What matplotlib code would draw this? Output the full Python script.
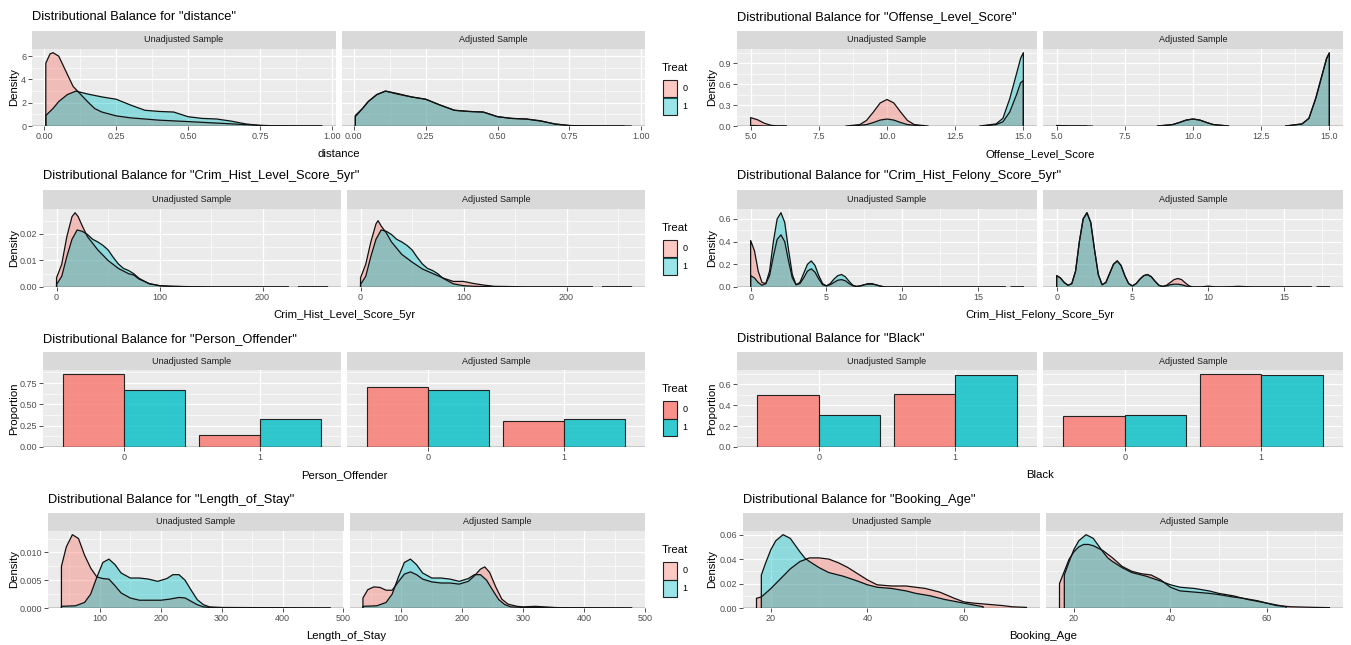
import numpy as np
import matplotlib
matplotlib.use("Agg")
import matplotlib.pyplot as plt
from matplotlib.patches import Rectangle
from matplotlib.colors import to_rgba

plt.rcParams['font.family'] = ['Liberation Sans', 'DejaVu Sans']

nan = np.nan

# ---------------------------------------------------------------- data
treat_levels = ["0", "1"]
facet_labels = ["Unadjusted Sample", "Adjusted Sample"]

# distance (propensity score)
distance_x_ctrl_unadj = [0.005, 0.005, 0.02, 0.03, 0.05, 0.075, 0.10, 0.125, 0.15, 0.175, 0.20, 0.25, 0.30, 0.35,
                         0.40, 0.50, 0.60, 0.70, 0.75, 0.80, 0.90, 0.965]
distance_y_ctrl_unadj = [0, 5.4, 6.2, 6.3, 6.0, 4.7, 3.4, 2.75, 2.1, 1.5, 1.2, 0.87, 0.7, 0.6,
                         0.5, 0.38, 0.25, 0.12, 0.06, 0.02, 0.0, 0.0]
distance_x_trt = [0.005, 0.005, 0.03, 0.05, 0.08, 0.11, 0.15, 0.20, 0.25, 0.30, 0.35, 0.40, 0.45, 0.50,
                  0.55, 0.60, 0.65, 0.70, 0.75, 0.80, 0.90, 0.965]
distance_y_trt = [0, 0.9, 1.5, 2.1, 2.7, 3.0, 2.75, 2.5, 2.3, 1.8, 1.35, 1.25, 1.2, 0.8,
                  0.65, 0.6, 0.42, 0.18, 0.04, 0.01, 0.0, 0.0]
distance_x_ctrl_adj = [0.005, 0.005, 0.03, 0.05, 0.08, 0.11, 0.15, 0.20, 0.25, 0.30, 0.35, 0.40, 0.45, 0.50,
                       0.55, 0.60, 0.65, 0.70, 0.75, 0.80, 0.90, 0.94]
distance_y_ctrl_adj = [0, 0.8, 1.5, 2.1, 2.7, 3.0, 2.8, 2.5, 2.3, 1.8, 1.35, 1.25, 1.2, 0.8,
                       0.65, 0.6, 0.45, 0.16, 0.04, 0.01, 0.0, 0.0]
distance_xticks = [0.0, 0.25, 0.5, 0.75, 1.0]
distance_xticklabels = ["0.00", "0.25", "0.50", "0.75", "1.00"]
distance_yticks = [0, 2, 4, 6]
distance_yticklabels = ["0", "2", "4", "6"]

# Offense_Level_Score
offense_x_ctrl_unadj = [5.0, 5.0, 5.25, 5.5, 5.75, 6.0, 6.3, nan,
                        8.5, 9.0, 9.25, 9.5, 9.75, 10.0, 10.25, 10.5, 10.75, 11.0, 11.5, nan,
                        13.5, 14.0, 14.25, 14.5, 14.75, 14.9, 15.0, 15.0]
offense_y_ctrl_unadj = [0, 0.12, 0.09, 0.04, 0.01, 0.0, 0.0, nan,
                        0, 0.02, 0.08, 0.20, 0.33, 0.38, 0.33, 0.20, 0.08, 0.02, 0, nan,
                        0, 0.02, 0.06, 0.20, 0.45, 0.62, 0.65, 0]
offense_x_trt = [5.0, 5.0, 5.5, 6.3, nan,
                 8.7, 9.25, 9.5, 9.75, 10.0, 10.25, 10.5, 10.75, 11.3, nan,
                 13.4, 14.0, 14.25, 14.5, 14.75, 14.9, 15.0, 15.0]
offense_y_trt = [0, 0.008, 0.0, 0.0, nan,
                 0, 0.02, 0.05, 0.085, 0.10, 0.085, 0.05, 0.02, 0, nan,
                 0, 0.03, 0.11, 0.39, 0.75, 0.97, 1.05, 0]
offense_x_ctrl_adj = [5.0, 5.0, 5.5, 6.1, nan,
                      8.7, 9.25, 9.5, 9.75, 10.0, 10.25, 10.5, 10.75, 11.3, nan,
                      13.4, 14.0, 14.25, 14.5, 14.75, 14.9, 15.0, 15.0]
offense_y_ctrl_adj = [0, 0.005, 0.0, 0.0, nan,
                      0, 0.02, 0.05, 0.085, 0.10, 0.085, 0.05, 0.02, 0, nan,
                      0, 0.03, 0.11, 0.40, 0.76, 0.97, 1.04, 0]
offense_xticks = [5.0, 7.5, 10.0, 12.5, 15.0]
offense_xticklabels = ["5.0", "7.5", "10.0", "12.5", "15.0"]
offense_yticks = [0.0, 0.3, 0.6, 0.9]
offense_yticklabels = ["0.0", "0.3", "0.6", "0.9"]

# Crim_Hist_Level_Score_5yr
crimlvl_x_ctrl_unadj = [0, 0, 5, 10, 15, 18, 21, 25, 30, 40, 50, 60, 70, 75, 80, 90, 100, 110, 120, 135,
                        150, 225, nan, 235, 263]
crimlvl_y_ctrl_unadj = [0, 0.0035, 0.0085, 0.019, 0.0265, 0.028, 0.0265, 0.023, 0.019, 0.014, 0.010, 0.007,
                        0.005, 0.0045, 0.003, 0.0013, 0.0005, 0.0003, 0.0002, 0.0001, 0, 0, nan, 0, 0]
crimlvl_x_trt = [0, 0, 5, 10, 15, 20, 25, 30, 35, 40, 45, 50, 55, 60, 65, 70, 75, 80, 90, 100, 110, 130,
                 150, 225, nan, 235, 263]
crimlvl_y_trt = [0, 0.001, 0.004, 0.0115, 0.018, 0.0215, 0.021, 0.0198, 0.018, 0.017, 0.0157, 0.014, 0.0112,
                 0.0087, 0.007, 0.0062, 0.005, 0.0033, 0.0012, 0.0005, 0.00025, 0.0001, 0, 0, nan, 0, 0]
crimlvl_x_ctrl_adj = [0, 0, 5, 10, 15, 17, 20, 25, 30, 40, 50, 60, 70, 80, 90, 100, 110, 120, 130, 145,
                      160, 225, nan, 235, 263]
crimlvl_y_ctrl_adj = [0, 0.0035, 0.0085, 0.017, 0.0238, 0.025, 0.023, 0.0204, 0.017, 0.0123, 0.0094, 0.0068,
                      0.0051, 0.0034, 0.0021, 0.0021, 0.0013, 0.0007, 0.00025, 0.00017, 0, 0, nan, 0, 0]
crimlvl_xticks = [0, 100, 200]
crimlvl_xticklabels = ["0", "100", "200"]
crimlvl_yticks = [0.0, 0.01, 0.02]
crimlvl_yticklabels = ["0.00", "0.01", "0.02"]

# Crim_Hist_Felony_Score_5yr
felony_x = [0, 0, 0.25, 0.5, 0.75, 1, 1.25, 1.5, 1.75, 2, 2.25, 2.5, 2.75, 3, 3.25, 3.5, 3.75, 4, 4.25,
            4.5, 4.75, 5, 5.25, 5.5, 5.75, 6, 6.25, 6.5, 6.75, 7, 7.25, 7.5, 7.75, 8, 8.25, 8.5, 8.75, 9,
            9.5, 10, 10.5, 11, 12, 13, 14, 15, 16.8, nan, 17.2, 18]
felony_y_ctrl_unadj = [0, 0.41, 0.32, 0.14, 0.04, 0.03, 0.10, 0.27, 0.42, 0.46, 0.40, 0.23, 0.08, 0.02,
                       0.03, 0.08, 0.14, 0.16, 0.13, 0.07, 0.02, 0.01, 0.02, 0.04, 0.06, 0.065, 0.055,
                       0.03, 0.01, 0.005, 0.01, 0.02, 0.03, 0.03, 0.02, 0.01, 0.003, 0.0,
                       0, 0, 0, 0, 0, 0, 0, 0, 0, nan, 0, 0]
felony_y_trt = [0, 0.10, 0.08, 0.04, 0.015, 0.03, 0.14, 0.40, 0.60, 0.655, 0.57, 0.33, 0.11, 0.02,
                0.04, 0.12, 0.20, 0.23, 0.19, 0.10, 0.03, 0.01, 0.03, 0.07, 0.10, 0.11, 0.09,
                0.05, 0.015, 0.005, 0.01, 0.02, 0.025, 0.025, 0.02, 0.01, 0.003, 0.0,
                0, 0, 0, 0, 0, 0, 0, 0, 0, nan, 0, 0]
felony_y_ctrl_adj = [0, 0.10, 0.08, 0.04, 0.015, 0.03, 0.14, 0.40, 0.60, 0.655, 0.57, 0.33, 0.11, 0.02,
                     0.04, 0.12, 0.20, 0.23, 0.19, 0.10, 0.03, 0.01, 0.03, 0.07, 0.10, 0.11, 0.09,
                     0.05, 0.015, 0.005, 0.015, 0.04, 0.065, 0.075, 0.065, 0.035, 0.01, 0.0,
                     0, 0.008, 0, 0, 0.006, 0, 0, 0, 0, nan, 0, 0]
felony_xticks = [0, 5, 10, 15]
felony_xticklabels = ["0", "5", "10", "15"]
felony_yticks = [0.0, 0.2, 0.4, 0.6]
felony_yticklabels = ["0.0", "0.2", "0.4", "0.6"]

# Person_Offender (proportions)
person_categories = ["0", "1"]
person_ctrl_unadj = [0.86, 0.14]
person_trt = [0.67, 0.33]
person_ctrl_adj = [0.70, 0.30]
person_yticks = [0.0, 0.25, 0.5, 0.75]
person_yticklabels = ["0.00", "0.25", "0.50", "0.75"]

# Black (proportions)
black_categories = ["0", "1"]
black_ctrl_unadj = [0.495, 0.505]
black_trt = [0.31, 0.69]
black_ctrl_adj = [0.30, 0.70]
black_yticks = [0.0, 0.2, 0.4, 0.6]
black_yticklabels = ["0.0", "0.2", "0.4", "0.6"]

# Length_of_Stay
los_x_ctrl_unadj = [37, 37, 45, 55, 65, 75, 85, 95, 105, 115, 125, 135, 150, 165, 180, 200, 215, 230, 240,
                    250, 260, 270, 280, 300, 478]
los_y_ctrl_unadj = [0, 0.0075, 0.011, 0.0132, 0.0125, 0.0095, 0.0072, 0.0056, 0.0053, 0.0052, 0.004, 0.0027,
                    0.0018, 0.0014, 0.0014, 0.0014, 0.0016, 0.0019, 0.0018, 0.0012, 0.0006, 0.0002, 0.0001,
                    0.0, 0.0]
los_x_trt = [37, 37, 60, 75, 85, 95, 105, 115, 125, 135, 150, 165, 180, 195, 210, 220, 230, 240, 250, 260,
             270, 280, 300, 478]
los_y_trt = [0, 0.0003, 0.0004, 0.001, 0.0025, 0.0055, 0.0082, 0.0088, 0.0078, 0.0063, 0.0054, 0.0054,
             0.0052, 0.0048, 0.0053, 0.006, 0.006, 0.005, 0.0032, 0.0015, 0.0006, 0.0002, 0.0001, 0]
los_x_ctrl_adj = [37, 37, 45, 55, 65, 75, 85, 95, 105, 115, 125, 135, 150, 165, 180, 195, 210, 220, 230, 237,
                  245, 255, 265, 275, 290, 300, 320, 335, 350, 370, 478]
los_y_ctrl_adj = [0, 0.0018, 0.0033, 0.0038, 0.0037, 0.0032, 0.0032, 0.0047, 0.0061, 0.0065, 0.006, 0.0052,
                  0.0047, 0.0045, 0.0045, 0.0043, 0.0048, 0.0058, 0.0070, 0.0074, 0.0064, 0.0038, 0.0016,
                  0.0007, 0.0003, 0.0002, 0.0003, 0.0002, 0.0001, 0.0, 0.0]
los_xticks = [100, 200, 300, 400, 500]
los_xticklabels = ["100", "200", "300", "400", "500"]
los_yticks = [0.0, 0.005, 0.010]
los_yticklabels = ["0.000", "0.005", "0.010"]

# Booking_Age
age_x_ctrl_unadj = [17, 17, 18, 20, 22, 24, 26, 28, 30, 32, 34, 36, 38, 40, 42, 45, 48, 50, 52, 55, 58, 60,
                    62, 65, 68, 70, 73, 73]
age_y_ctrl_unadj = [0, 0.008, 0.009, 0.016, 0.024, 0.032, 0.038, 0.041, 0.041, 0.040, 0.037, 0.033, 0.028,
                    0.023, 0.019, 0.018, 0.018, 0.017, 0.016, 0.013, 0.008, 0.005, 0.004, 0.003, 0.002,
                    0.001, 0.0005, 0]
age_x_trt = [18, 18, 19, 20, 21, 22.5, 24, 26, 27, 28, 30, 32, 35, 38, 40, 42, 45, 48, 50, 53, 56, 58, 60,
             62, 64, 64]
age_y_trt = [0, 0.027, 0.038, 0.048, 0.055, 0.060, 0.057, 0.046, 0.041, 0.038, 0.033, 0.029, 0.026, 0.022,
             0.019, 0.017, 0.016, 0.014, 0.012, 0.010, 0.007, 0.0055, 0.004, 0.0025, 0.001, 0]
age_x_ctrl_adj = [17, 17, 18, 19, 20, 21, 22, 23, 24, 26, 28, 30, 32, 34, 36, 38, 40, 42, 45, 48, 50, 53,
                  55, 58, 60, 62, 65, 70, 73, 73]
age_y_ctrl_adj = [0, 0.02, 0.03, 0.04, 0.046, 0.05, 0.052, 0.052, 0.051, 0.047, 0.041, 0.034, 0.030, 0.028,
                  0.027, 0.023, 0.017, 0.014, 0.013, 0.012, 0.011, 0.009, 0.008, 0.006, 0.004, 0.002,
                  0.001, 0.0005, 0.0003, 0]
age_xticks = [20, 40, 60]
age_xticklabels = ["20", "40", "60"]
age_yticks = [0.0, 0.02, 0.04, 0.06]
age_yticklabels = ["0.00", "0.02", "0.04", "0.06"]

# ---------------------------------------------------------------- style
W, H = 1351, 645
RED, TEAL = "#F8766D", "#00BFC4"
PANEL_BG, STRIP_BG = "#EBEBEB", "#D9D9D9"
TICK_FS, STRIP_FS, LABEL_FS, TITLE_FS = 6.5, 6.5, 8.2, 9.3

# vertical layout of the four rows: title centre, strip top, panel top, panel bottom (pixels)
ROWS = [(17, 31, 49, 126), (176, 190, 209, 287), (339, 352, 370, 447), (500, 513, 531, 608)]
COL_RIGHT = [645, 1343]
YLABEL_X = [14, 712]
GAP = 6

fig = plt.figure(figsize=(W / 100, H / 100), dpi=100)


def px_axes(x0, y0, x1, y1):
    return fig.add_axes([x0 / W, 1 - y1 / H, (x1 - x0) / W, (y1 - y0) / H])


def minor_breaks(majors, lim):
    step = majors[1] - majors[0]
    cand = np.arange(majors[0] - step / 2, majors[-1] + step, step)
    return [c for c in cand if lim[0] <= c <= lim[1]]


def padded(lo, hi, frac=0.05):
    span = hi - lo
    return (lo - frac * span, hi + frac * span)


def style_panel(ax, xlim, ylim, xticks, xlabels, yticks, ylabels, show_y, xminor=True):
    ax.set_facecolor(PANEL_BG)
    for s in ax.spines.values():
        s.set_visible(False)
    ax.set_xlim(xlim)
    ax.set_ylim(ylim)
    ax.set_xticks(xticks)
    ax.set_xticklabels(xlabels)
    ax.set_yticks(yticks)
    ax.set_yticklabels(ylabels)
    if xminor:
        ax.set_xticks(minor_breaks(xticks, xlim), minor=True)
    ax.set_yticks(minor_breaks(yticks, ylim), minor=True)
    ax.tick_params(which='minor', length=0)
    ax.tick_params(which='major', length=2.7, width=0.6, color='#333333', labelsize=TICK_FS,
                   labelcolor='#4D4D4D', pad=1.5)
    if not show_y:
        ax.tick_params(axis='y', which='both', left=False, labelleft=False)
    ax.grid(which='major', color='white', lw=0.9)
    ax.grid(which='minor', color='white', lw=0.45)
    ax.set_axisbelow(True)
    ax.axhline(0, color='#3A3A3A', lw=1.0, zorder=2.5)


def make_frame(col, row, left, title, xlabel, ylabel):
    ty, st, pt, pb = ROWS[row]
    right = COL_RIGHT[col]
    mid = (left + right) / 2
    boxes = [(left, mid - GAP / 2), (mid + GAP / 2, right)]
    axes = []
    for (x0, x1), lab in zip(boxes, facet_labels):
        sa = px_axes(x0, st, x1, pt)
        sa.set_facecolor(STRIP_BG)
        sa.set_xticks([])
        sa.set_yticks([])
        for s in sa.spines.values():
            s.set_visible(False)
        sa.text(0.5, 0.5, lab, transform=sa.transAxes, ha='center', va='center',
                fontsize=STRIP_FS, color='#1A1A1A')
        axes.append(px_axes(x0, pt, x1, pb))
    fig.text(left / W, 1 - ty / H, title, ha='left', va='center', fontsize=TITLE_FS, color='black')
    fig.text((left + right) / 2 / W, 1 - (pb + 28) / H, xlabel, ha='center', va='center',
             fontsize=LABEL_FS, color='black')
    fig.text(YLABEL_X[col] / W, 1 - (pt + pb) / 2 / H, ylabel, rotation=90, ha='center', va='center',
             fontsize=LABEL_FS, color='black')
    return axes


def legend(row, alpha):
    pt = ROWS[row][2]
    fig.text(662 / W, 1 - (pt + 19) / H, "Treat", ha='left', va='center', fontsize=LABEL_FS)
    for i, (lvl, col) in enumerate(zip(treat_levels, [RED, TEAL])):
        y0 = pt + 31 + i * 17.5
        fig.add_artist(Rectangle((663 / W, 1 - (y0 + 17.5) / H), 14 / W, 17.5 / H,
                                 transform=fig.transFigure, facecolor=to_rgba(col, alpha),
                                 edgecolor='#222222', lw=0.8))
        fig.text(685 / W, 1 - (y0 + 8.75) / H, lvl, ha='center', va='center', fontsize=TICK_FS)


def density(ax, x, y, color):
    x = np.asarray(x, float)
    y = np.asarray(y, float)
    ax.fill_between(x, 0, y, facecolor=to_rgba(color, 0.4), lw=0, zorder=2)
    ax.plot(x, y, color='#111111', lw=0.9, zorder=3, solid_joinstyle='round')


def density_plot(col, row, left, name, curves, xticks, xlabels, yticks, ylabels, show_legend):
    axes = make_frame(col, row, left, f'Distributional Balance for "{name}"', name, "Density")
    xs = np.concatenate([np.asarray(c[0], float) for pair in curves for c in pair])
    ys = np.concatenate([np.asarray(c[1], float) for pair in curves for c in pair])
    xlim = padded(np.nanmin(xs), np.nanmax(xs))
    ylim = (0, 1.05 * np.nanmax(ys))
    for k, (ax, pair) in enumerate(zip(axes, curves)):
        style_panel(ax, xlim, ylim, xticks, xlabels, yticks, ylabels, show_y=(k == 0))
        (cx, cy), (tx, tyv) = pair
        density(ax, cx, cy, RED)
        density(ax, tx, tyv, TEAL)
    if show_legend:
        legend(row, 0.4)


def bar_plot(col, row, left, name, categories, groups, yticks, ylabels, show_legend):
    axes = make_frame(col, row, left, f'Distributional Balance for "{name}"', name, "Proportion")
    pos = np.arange(1, len(categories) + 1)
    ylim = (0, 1.05 * max(max(v) for pair in groups for v in pair))
    for k, (ax, (ctrl, trt)) in enumerate(zip(axes, groups)):
        style_panel(ax, (0.4, len(categories) + 0.6), ylim, list(pos), categories, yticks, ylabels,
                    show_y=(k == 0), xminor=False)
        ax.bar(pos - 0.225, ctrl, width=0.45, facecolor=to_rgba(RED, 0.8), edgecolor='#222222', lw=0.8,
               zorder=2)
        ax.bar(pos + 0.225, trt, width=0.45, facecolor=to_rgba(TEAL, 0.8), edgecolor='#222222', lw=0.8,
               zorder=2)
    if show_legend:
        legend(row, 0.8)


# ---------------------------------------------------------------- panels
density_plot(0, 0, 32, "distance",
             [((distance_x_ctrl_unadj, distance_y_ctrl_unadj), (distance_x_trt, distance_y_trt)),
              ((distance_x_ctrl_adj, distance_y_ctrl_adj), (distance_x_trt, distance_y_trt))],
             distance_xticks, distance_xticklabels, distance_yticks, distance_yticklabels, True)

density_plot(1, 0, 737, "Offense_Level_Score",
             [((offense_x_ctrl_unadj, offense_y_ctrl_unadj), (offense_x_trt, offense_y_trt)),
              ((offense_x_ctrl_adj, offense_y_ctrl_adj), (offense_x_trt, offense_y_trt))],
             offense_xticks, offense_xticklabels, offense_yticks, offense_yticklabels, False)

density_plot(0, 1, 43, "Crim_Hist_Level_Score_5yr",
             [((crimlvl_x_ctrl_unadj, crimlvl_y_ctrl_unadj), (crimlvl_x_trt, crimlvl_y_trt)),
              ((crimlvl_x_ctrl_adj, crimlvl_y_ctrl_adj), (crimlvl_x_trt, crimlvl_y_trt))],
             crimlvl_xticks, crimlvl_xticklabels, crimlvl_yticks, crimlvl_yticklabels, True)

density_plot(1, 1, 737, "Crim_Hist_Felony_Score_5yr",
             [((felony_x, felony_y_ctrl_unadj), (felony_x, felony_y_trt)),
              ((felony_x, felony_y_ctrl_adj), (felony_x, felony_y_trt))],
             felony_xticks, felony_xticklabels, felony_yticks, felony_yticklabels, False)

bar_plot(0, 2, 43, "Person_Offender", person_categories,
         [(person_ctrl_unadj, person_trt), (person_ctrl_adj, person_trt)],
         person_yticks, person_yticklabels, True)

bar_plot(1, 2, 737, "Black", black_categories,
         [(black_ctrl_unadj, black_trt), (black_ctrl_adj, black_trt)],
         black_yticks, black_yticklabels, False)

density_plot(0, 3, 48, "Length_of_Stay",
             [((los_x_ctrl_unadj, los_y_ctrl_unadj), (los_x_trt, los_y_trt)),
              ((los_x_ctrl_adj, los_y_ctrl_adj), (los_x_trt, los_y_trt))],
             los_xticks, los_xticklabels, los_yticks, los_yticklabels, True)

density_plot(1, 3, 743, "Booking_Age",
             [((age_x_ctrl_unadj, age_y_ctrl_unadj), (age_x_trt, age_y_trt)),
              ((age_x_ctrl_adj, age_y_ctrl_adj), (age_x_trt, age_y_trt))],
             age_xticks, age_xticklabels, age_yticks, age_yticklabels, False)

fig.savefig("out.png", dpi=100, facecolor="white")
